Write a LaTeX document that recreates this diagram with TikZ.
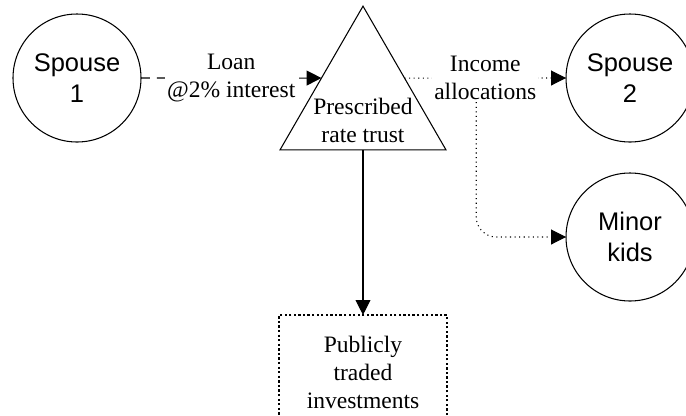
\documentclass[tikz,border=0pt]{standalone}
\usepackage{fontspec}
\setmainfont{Liberation Serif}
\newfontfamily\circfont{Liberation Sans}
\usetikzlibrary{arrows.meta,positioning,shapes.geometric}
\tikzset{
  party/.style={draw, circle, line width=0.6pt, minimum size=2.56cm, inner sep=0pt,
                outer sep=0pt, align=center, font=\circfont\fontsize{14.5}{18}\selectfont},
  trustshape/.style={draw, regular polygon, regular polygon sides=3, minimum size=3.834cm,
                     inner sep=0pt, outer sep=0pt, line width=0.6pt},
  investbox/.style={draw, line width=1pt, dash pattern=on 1.3pt off 1.3pt,
                    minimum width=3.36cm, minimum height=2.3cm, align=center, outer sep=0pt},
  flowlbl/.style={fill=white, inner sep=1pt, align=center},
  loanline/.style={->, line width=0.6pt, dash pattern=on 5pt off 4pt},
  incline/.style={->, line width=0.6pt, dotted},
}

\begin{document}
\begin{tikzpicture}[font=\fontsize{13.4}{16}\selectfont, >={Triangle[length=8.5pt,width=8.5pt]}]
    \clip (0,0) rectangle (13.72,8.3);
    \node[party] (sp1) at (1.54,6.74) {Spouse\\1};
    \node[trustshape] (trust) at (7.26,6.26) {};
    \node[inner sep=0pt, align=center, above=0.13cm of trust.south] (trusttxt) {Prescribed\\rate trust};
    \node[party] (sp2) at (12.6,6.74) {Spouse\\2};
    \node[party, below=0.62cm of sp2] (kids) {Minor\\kids};
    \node[investbox, below=3.3cm of trust.south] (inv) {Publicly\\traded\\investments};
    % flows
    \draw[loanline] (sp1.east) -- node[flowlbl] (loan) {Loan\\@2\% interest} (trust.side 1);
    \draw[incline] (trust.side 3) -- node[flowlbl] (inc) {Income\\allocations} (sp2.west);
    \draw[incline, rounded corners=0.4cm] ([xshift=-0.18cm]inc.south) |- (kids.west);
    \draw[->, line width=0.6pt] (trust.south) -- (inv.north);
\end{tikzpicture}
\end{document}
